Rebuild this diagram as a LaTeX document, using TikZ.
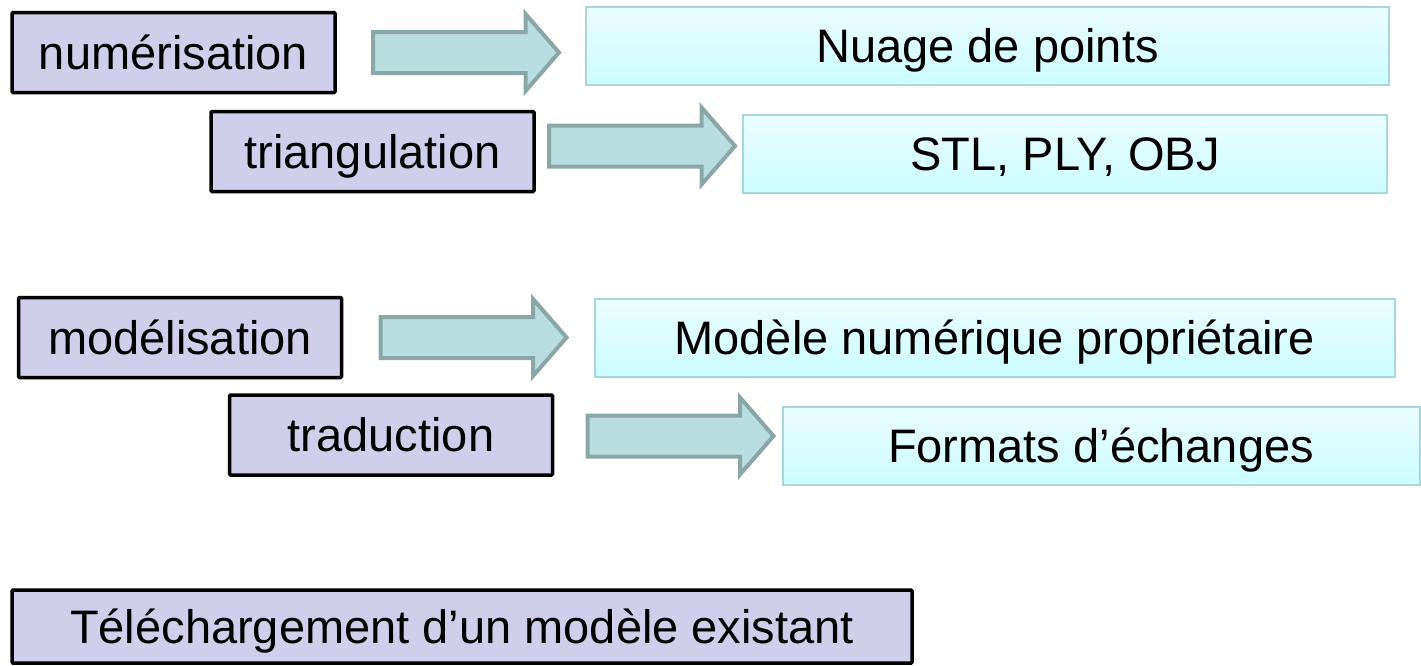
\documentclass[tikz,border=0pt]{standalone}
\usepackage{fontspec}
\setmainfont{Liberation Sans}
\usetikzlibrary{positioning,shapes.arrows}

\definecolor{lavande}{RGB}{207,207,236}
\definecolor{cyanclair}{RGB}{234,253,254}
\definecolor{cyanfonce}{RGB}{204,253,254}
\definecolor{cyanbord}{RGB}{168,214,218}
\definecolor{flechefond}{RGB}{185,222,224}
\definecolor{flechebord}{RGB}{138,166,166}

\tikzset{
	texte/.style={font=\fontsize{47}{56}\selectfont, text height=33pt, text depth=0pt},
	etape/.style={texte, draw=black, line width=3.5pt, fill=lavande, rounded corners=1pt,
		minimum width=323pt, minimum height=80pt, inner sep=0pt, outer sep=0pt},
	resultat/.style={texte, draw=cyanbord, line width=2pt, top color=cyanclair, bottom color=cyanfonce,
		minimum height=78pt, inner sep=0pt, outer sep=0pt},
	fleche/.style={single arrow, draw=flechebord, line width=4pt, fill=flechefond,
		minimum height=186pt, single arrow head extend=18pt, single arrow tip angle=98,
		inner xsep=0pt, inner ysep=18.5pt, outer sep=0pt},
}

\begin{document}
\begin{tikzpicture}[x=1pt, y=-1pt]
		\useasboundingbox (0,0) rectangle (1421,665);
		% acquisition
		\node[etape] (num) at (173.5,52.5) {numérisation};
		\node[fleche, right=38pt of num] (fl1) {};
		\node[resultat, minimum width=803pt, right=27pt of fl1, yshift=6.5pt] (nua) {Nuage de points};
		\node[etape] (tri) at (372.5,151.5) {triangulation};
		\node[fleche, right=15pt of tri, yshift=5.5pt] (fl2) {};
		\node[resultat, minimum width=644pt, right=8pt of fl2, yshift=-8pt] (stl) {STL, PLY, OBJ};
		% conception
		\node[etape] (mod) at (180,337.5) {modélisation};
		\node[fleche, right=39pt of mod] (fl3) {};
		\node[resultat, minimum width=800pt, right=28pt of fl3] (mdl) {Modèle numérique propriétaire};
		\node[etape] (tra) at (391,435) {traduction};
		\node[fleche, right=35pt of tra, yshift=-1pt] (fl4) {};
		\node[resultat, minimum width=637pt, right=9pt of fl4, yshift=-9.5pt] (fmt) {Formats d’échanges};
		% bibliotheque
		\node[etape, minimum width=900pt, minimum height=73pt] (tel) at (462,626.5) {Téléchargement d’un modèle existant};
	\end{tikzpicture}
\end{document}
